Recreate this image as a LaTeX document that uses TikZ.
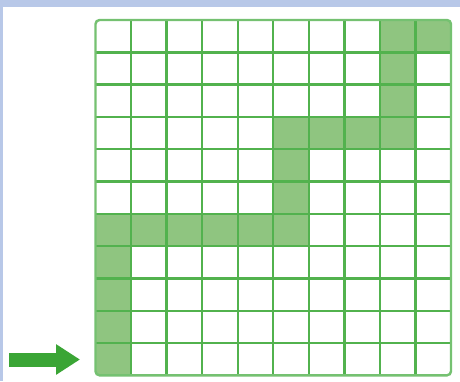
\documentclass[tikz,border=0pt]{standalone}
\usepackage{tikz}
\usetikzlibrary{arrows.meta, positioning}

\definecolor{pagebg}{HTML}{B8C8E8}
\definecolor{linegreen}{HTML}{52B24E}
\definecolor{cellgreen}{HTML}{8FC580}
\definecolor{arrowgreen}{HTML}{3AA535}

\tikzset{
    gridline/.style={linegreen, line width=2.4pt},
    cellfill/.style={fill=cellgreen},
}

\begin{document}
\begin{tikzpicture}[x=1pt, y=-1pt]
    % 页面背景
    \useasboundingbox (0,0) rectangle (460,381);
    \fill[pagebg] (0,0) rectangle (460,381);
    \fill[white] (3,7) rectangle (460,381);

    % 方格与路径
    \begin{scope}[xshift=95.5pt, yshift=-20pt, x=35.55pt, y=-32.3pt]
        \begin{scope}
            \clip[rounded corners=4pt] (0,0) rectangle (10,11);
            \foreach \c/\r in {8/0, 9/0, 8/1, 8/2, 5/3, 6/3, 7/3, 8/3, 5/4, 5/5,
                               0/6, 1/6, 2/6, 3/6, 4/6, 5/6, 0/7, 0/8, 0/9, 0/10}
                \fill[cellfill] (\c,\r) rectangle ++(1,1);
            \foreach \i in {1,...,9}
                \draw[gridline] (\i,0) -- (\i,11);
            \foreach \j in {1,...,10}
                \draw[gridline] (0,\j) -- (10,\j);
        \end{scope}
        \draw[gridline, linegreen!80, rounded corners=4pt] (0,0) rectangle (10,11);
    \end{scope}

    % 入口箭头
    \coordinate (arrowtail) at (9,359.5);
    \coordinate (arrowtip) at (80,359.5);
    \draw[arrowgreen, line width=14pt, -{Triangle[length=24pt, width=29pt]}]
        (arrowtail) -- (arrowtip);
\end{tikzpicture}
\end{document}
